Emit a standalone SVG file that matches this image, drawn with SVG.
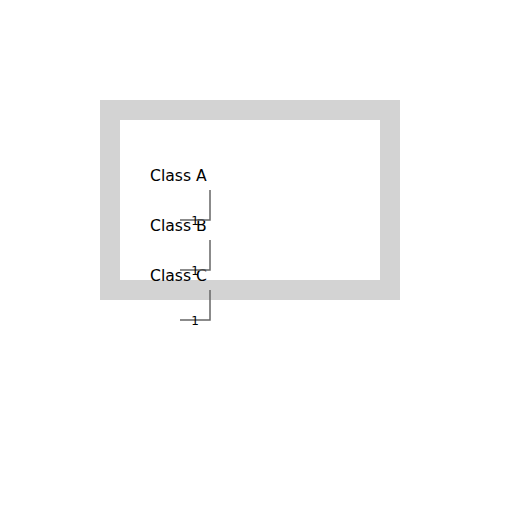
<svg xmlns="http://www.w3.org/2000/svg" width="512" height="512" viewBox="0 0 512 512">
<style>
.lbl{font-family:"DejaVu Sans",sans-serif;font-size:15.6px;fill:#000}
.num{font-family:"DejaVu Sans",sans-serif;font-size:12px;fill:#000;text-anchor:middle}
.conn{fill:none;stroke:#666;stroke-width:1.5}
</style>
<rect width="512" height="512" fill="#fff"/>
<g id="frame">
<rect x="110" y="110" width="280" height="180" fill="#fff" stroke="#d3d3d3" stroke-width="20"/>
</g>
<g id="classA"><text class="lbl" x="150" y="180.5">Class A</text></g>
<g id="classB"><text class="lbl" x="150" y="230.5">Class B</text></g>
<g id="classC"><text class="lbl" x="150" y="280.5">Class C</text></g>
<g id="connectors">
<path class="conn" d="M210,190 V220 H180"/>
<text class="num" x="195" y="225">1</text>
<path class="conn" d="M210,240 V270 H180"/>
<text class="num" x="195" y="275">1</text>
<path class="conn" d="M210,290 V320 H180"/>
<text class="num" x="195" y="325">1</text>
</g>
</svg>
